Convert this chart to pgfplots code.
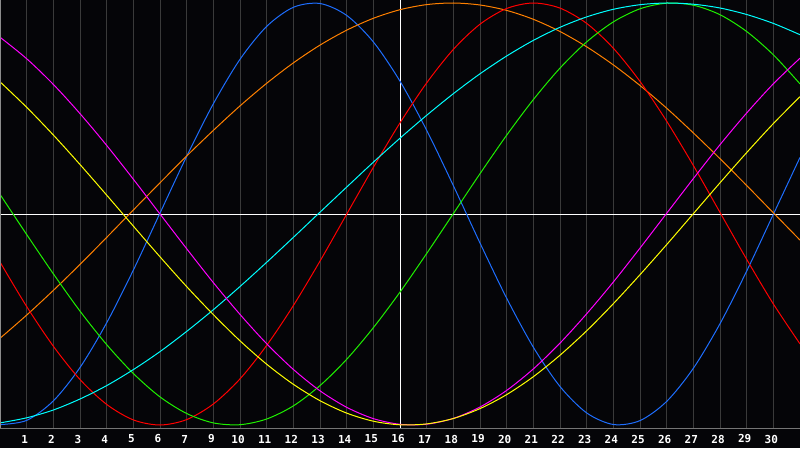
\documentclass[border=0pt]{standalone}
\usepackage{fontspec}
\setmonofont{DejaVu Sans Mono}
\usepackage{pgfplots}
\pgfplotsset{compat=1.18}

\definecolor{bgc}{RGB}{5,5,8}
\definecolor{gridc}{RGB}{58,58,58}
\definecolor{framec}{RGB}{140,140,140}
\definecolor{cBlue}{RGB}{30,110,255}
\definecolor{cOrange}{RGB}{255,128,0}
\definecolor{cRed}{RGB}{255,0,0}
\definecolor{cGreen}{RGB}{30,240,0}
\definecolor{cCyan}{RGB}{0,255,255}
\definecolor{cMagenta}{RGB}{255,0,255}
\definecolor{cYellow}{RGB}{255,255,0}

\begin{document}
\begin{tikzpicture}
\fill[bgc] (0,-20pt) rectangle (800pt,428pt);
\begin{axis}[
    at={(0,0)}, anchor=south west,
    scale only axis,
    width=800pt, height=428pt,
    xmin=0, xmax=30,
    ymin=-214, ymax=214,
    axis line style={draw=none},
    xtick={1,...,29},
    xticklabels={1,2,3,4,5,6,7,9,10,11,12,13,14,15,16,17,18,19,20,21,22,23,24,25,26,27,28,29,30},
    ytick=\empty,
    major tick length=0pt,
    xmajorgrids=true,
    major grid style={draw=gridc, line width=1pt},
    xticklabel style={
        font=\fontsize{11}{11}\selectfont\ttfamily\bfseries,
        text=white, anchor=center, yshift=-11pt, xshift=-2pt
    },
    extra x ticks={15},
    extra x tick labels={},
    extra x tick style={grid=major, major grid style={draw=white, line width=1pt}},
    extra y ticks={0},
    extra y tick labels={},
    extra y tick style={grid=major, major grid style={draw=white, line width=1pt}},
    every axis plot/.append style={line width=1pt, smooth, no marks},
    clip=true
]

% blue
\addplot[cBlue] coordinates {
(0,-210.6)(1,-206.4)(2,-186.9)(3,-153.5)(4,-108.8)(5,-56.1)(6,0.9)(7,57.7)
(8,110.2)(9,154.7)(10,187.6)(11,206.7)(12,210.5)(13,198.6)(14,172.1)(15,132.8)
(16,83.7)(17,28.4)(18,-29.0)(19,-84.2)(20,-133.2)(21,-172.5)(22,-198.9)(23,-210.5)
(24,-206.6)(25,-187.4)(26,-154.3)(27,-109.7)(28,-57.1)(29,-0.3)(30,56.6)};

% orange
\addplot[cOrange] coordinates {
(0,-124.3)(1,-101.1)(2,-76.4)(3,-50.4)(4,-23.4)(5,4.0)(6,31.2)(7,58.0)
(8,83.6)(9,108.1)(10,130.7)(11,151.1)(12,168.9)(13,183.8)(14,195.7)(15,204.3)
(16,209.4)(17,211.0)(18,209.0)(19,203.6)(20,194.7)(21,182.5)(22,167.2)(23,149.1)
(24,128.5)(25,105.8)(26,81.1)(27,55.3)(28,28.5)(29,1.2)(30,-26.1)};

% red
\addplot[cRed] coordinates {
(0,-48.0)(1,-92.5)(2,-132.2)(3,-165.5)(4,-190.4)(5,-205.9)(6,-211.0)(7,-205.6)
(8,-190.0)(9,-164.9)(10,-131.4)(11,-91.6)(12,-47.1)(13,-0.2)(14,46.6)(15,91.1)
(16,131.1)(17,164.6)(18,189.8)(19,205.5)(20,211.0)(21,205.9)(22,190.6)(23,165.8)
(24,132.6)(25,92.8)(26,48.5)(27,1.6)(28,-45.3)(29,-89.9)(30,-129.9)};

% green
\addplot[cGreen] coordinates {
(0,19.7)(1,-20.5)(2,-59.8)(3,-97.1)(4,-130.6)(5,-159.5)(6,-182.9)(7,-199.5)
(8,-208.9)(9,-210.7)(10,-205.0)(11,-191.9)(12,-171.6)(13,-145.3)(14,-113.7)(15,-78.1)
(16,-39.5)(17,0.4)(18,40.3)(19,78.8)(20,114.4)(21,145.9)(22,172.1)(23,192.1)
(24,205.2)(25,210.8)(26,208.8)(27,199.3)(28,182.5)(29,159.2)(30,130.1)};

% cyan
\addplot[cCyan] coordinates {
(0,-208.9)(1,-203.8)(2,-196.0)(3,-185.0)(4,-171.6)(5,-155.6)(6,-137.6)(7,-117.4)
(8,-95.7)(9,-72.5)(10,-48.3)(11,-23.4)(12,1.8)(13,26.9)(14,51.8)(15,75.8)
(16,98.7)(17,120.3)(18,140.2)(19,158.0)(20,173.6)(21,186.7)(22,197.1)(23,204.7)
(24,209.3)(25,211.0)(26,209.8)(27,206.0)(28,199.5)(29,190.6)(30,179.3)};

% magenta
\addplot[cMagenta] coordinates {
(0,176.8)(1,155.3)(2,129.6)(3,100.4)(4,68.6)(5,34.8)(6,0.0)(7,-34.7)
(8,-68.6)(9,-100.4)(10,-129.7)(11,-155.4)(12,-176.8)(13,-193.3)(14,-204.6)(15,-210.3)
(16,-210.2)(17,-204.4)(18,-193.0)(19,-176.4)(20,-154.9)(21,-129.1)(22,-99.8)(23,-68.0)
(24,-34.1)(25,0.7)(26,35.4)(27,69.3)(28,101.0)(29,130.2)(30,155.8)};

% yellow
\addplot[cYellow] coordinates {
(0,132.2)(1,106.7)(2,79.0)(3,49.5)(4,18.9)(5,-12.1)(6,-42.8)(7,-72.6)
(8,-100.6)(9,-126.8)(10,-150.2)(11,-170.3)(12,-186.7)(13,-199.1)(14,-207.2)(15,-210.8)
(16,-209.9)(17,-204.5)(18,-194.6)(19,-180.6)(20,-162.7)(21,-141.2)(22,-116.8)(23,-89.7)
(24,-60.7)(25,-30.6)(26,0.3)(27,31.2)(28,61.4)(29,90.4)(30,117.3)};

% frame: left, top, bottom
\draw[framec, line width=1pt]
    (rel axis cs:0,0) -- (rel axis cs:0,1) -- (rel axis cs:1,1);
\draw[framec!120, line width=1pt]
    (rel axis cs:0,0) -- (rel axis cs:1,0);
\end{axis}
\pgfresetboundingbox
\path (0,-20pt) rectangle (800pt,428pt);
\end{tikzpicture}
\end{document}
